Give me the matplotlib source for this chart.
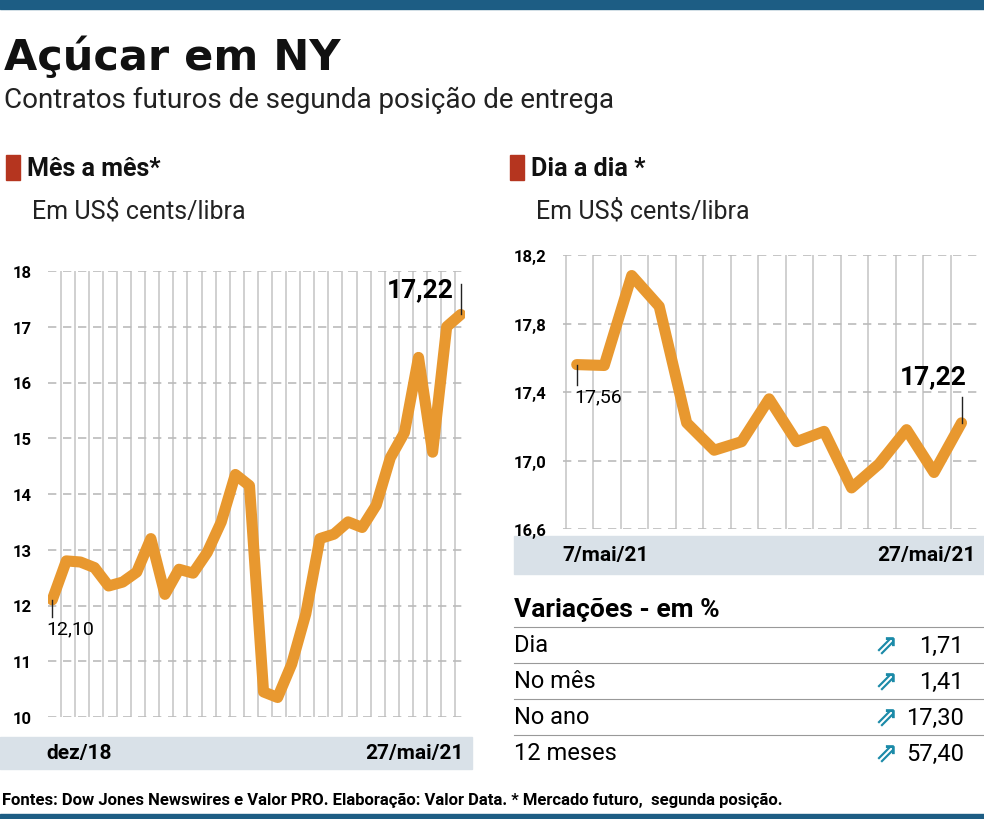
import matplotlib.pyplot as plt
import numpy as np

monthly = [12.10, 12.80, 12.78, 12.68, 12.35, 12.42, 12.60, 13.20, 12.20, 12.65,
           12.58, 12.95, 13.50, 14.35, 14.15, 10.45, 10.35, 10.95, 11.85, 13.20,
           13.28, 13.50, 13.40, 13.80, 14.65, 15.10, 16.45, 14.75, 17.00, 17.22]
daily = [17.56, 17.555, 18.08, 17.90, 17.22, 17.06, 17.11, 17.36, 17.11, 17.17,
         16.84, 16.98, 17.18, 16.93, 17.22]
var_labels = ['Dia', 'No mês', 'No ano', '12 meses']
var_values = ['1,71', '1,41', '17,30', '57,40']

W, H = 984, 820
orange = '#e8982f'
band = '#d9e1e8'
fig = plt.figure(figsize=(W / 100, H / 100), dpi=100)
plt.rcParams['font.family'] = ['Roboto', 'DejaVu Sans']

def ax_px(x0, y0, x1, y1):
    return fig.add_axes([x0 / W, 1 - y1 / H, (x1 - x0) / W, (y1 - y0) / H])

def px(x, y):
    return x / W, 1 - y / H

# top bar and bottom line
fig.patches.append(plt.Rectangle(px(0, 10), 1, 10 / H, transform=fig.transFigure, color='#1d5d84'))
fig.patches.append(plt.Rectangle(px(0, 820), 1, 5 / H, transform=fig.transFigure, color='#1d5d84'))

fig.text(*px(4, 58), 'Açúcar em NY', fontsize=31, fontweight='bold', va='center', family='DejaVu Sans', color='#111')
fig.text(*px(4, 100), 'Contratos futuros de segunda posição de entrega', fontsize=20, va='center', color='#222')

for x, t in [(6, 'Mês a mês*'), (510, 'Dia a dia *')]:
    fig.patches.append(plt.Rectangle(px(x, 181), 14 / W, 25 / H, transform=fig.transFigure, color='#b5351f'))
    fig.text(*px(x + 21, 169), t, fontsize=18, fontweight='bold', va='center', color='#111')
    fig.text(*px(x + 26, 211), 'Em US$ cents/libra', fontsize=18, va='center', color='#222')

def style(ax, n, ylo, yhi, step, fmt):
    ax.set_ylim(ylo, yhi)
    ticks = np.arange(ylo, yhi + step / 2, step)
    ax.set_yticks(ticks)
    ax.set_yticklabels([fmt(t) for t in ticks], fontsize=12, fontweight='bold')
    ax.set_xticks(np.arange(n) - 0.4)
    ax.set_xticklabels([])
    ax.tick_params(length=0, pad=12)
    ax.grid(axis='x', color='#c8c8c8', lw=1.2)
    ax.grid(axis='y', color='#bbbbbb', lw=1.2, ls=(0, (5, 4)))
    for s in ax.spines.values():
        s.set_visible(False)
    ax.set_axisbelow(True)

# left chart
ax1 = ax_px(48, 272, 465, 718)
x1 = np.arange(len(monthly))
ax1.plot(x1, monthly, color=orange, lw=8, solid_joinstyle='round', solid_capstyle='round')
style(ax1, len(monthly), 10, 18, 1, lambda t: f'{t:.0f}')
ax1.set_xlim(-0.3, len(monthly) - 0.7)
ax1.plot([0, 0], [monthly[0], monthly[0] - 0.3], color='#222', lw=1)
ax1.text(-0.4, monthly[0] - 0.35, '12,10', fontsize=14, va='top', ha='left')
ax1.plot([x1[-1], x1[-1]], [monthly[-1], monthly[-1] + 0.55], color='#222', lw=1)
ax1.text(x1[-1] - 0.5, monthly[-1] + 0.45, '17,22', fontsize=19, fontweight='bold', ha='right', va='center')
fig.patches.append(plt.Rectangle(px(0, 770), 472 / W, 32 / H, transform=fig.transFigure, color=band, zorder=-1))
fig.text(*px(46, 754), 'dez/18', fontsize=15, fontweight='bold', va='center')
fig.text(*px(464, 754), '27/mai/21', fontsize=15, fontweight='bold', va='center', ha='right')

# right chart
ax2 = ax_px(563, 256, 978, 530)
x2 = np.arange(len(daily))
ax2.plot(x2, daily, color=orange, lw=8, solid_joinstyle='round', solid_capstyle='round')
style(ax2, len(daily), 16.6, 18.2, 0.4, lambda t: f'{t:.1f}'.replace('.', ','))
ax2.set_xlim(-0.5, len(daily) - 0.4)
ax2.plot([0, 0], [daily[0], daily[0] - 0.12], color='#222', lw=1)
ax2.text(-0.1, daily[0] - 0.13, '17,56', fontsize=14, va='top', ha='left')
ax2.plot([x2[-1], x2[-1]], [daily[-1], daily[-1] + 0.15], color='#222', lw=1)
ax2.text(x2[-1] + 0.2, daily[-1] + 0.27, '17,22', fontsize=19, fontweight='bold', ha='right', va='center')
fig.patches.append(plt.Rectangle(px(514, 575), 470 / W, 38 / H, transform=fig.transFigure, color=band, zorder=-1))
fig.text(*px(562, 556), '7/mai/21', fontsize=15, fontweight='bold', va='center')
fig.text(*px(976, 556), '27/mai/21', fontsize=15, fontweight='bold', va='center', ha='right')

# variations table
fig.text(*px(514, 610), 'Variações - em %', fontsize=19, fontweight='bold', va='center')
for i, (lab, val) in enumerate(zip(var_labels, var_values)):
    y = 646 + i * 36
    fig.add_artist(plt.Line2D([514 / W, 1], [1 - (y - 18) / H] * 2, color='#999', lw=0.8))
    fig.text(*px(514, y), lab, fontsize=17, va='center')
    fig.text(*px(964, y), val, fontsize=17, va='center', ha='right')
    fig.text(*px(886, y), '⇗', fontsize=20, va='center', ha='center', color='#1b8aa8',
             family='DejaVu Sans', fontweight='bold')

fig.text(*px(2, 800), 'Fontes: Dow Jones Newswires e Valor PRO. Elaboração: Valor Data. * Mercado futuro,  segunda posição.',
         fontsize=12, fontweight='bold', va='center')

fig.savefig('out.png', dpi=100)
